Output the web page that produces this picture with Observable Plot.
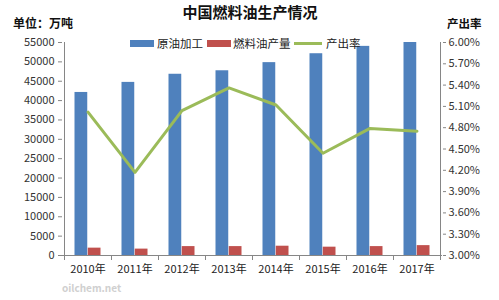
<!DOCTYPE html>
<html><head><meta charset="utf-8">
<script src="https://cdn.jsdelivr.net/npm/d3@7"></script>
<script src="https://cdn.jsdelivr.net/npm/@observablehq/plot@0.6"></script>
<style>
body{margin:0;background:#fff;}
#c{position:relative;width:499px;height:300px;}
</style>
</head><body><div id="c"></div>
<script>
const years = ["2010年","2011年","2012年","2013年","2014年","2015年","2016年","2017年"];
const crude = [42100,44700,46800,47700,49800,52100,54000,55000];
const fuel = [1900,1650,2300,2300,2400,2150,2300,2550];
const rate = [5.02,4.17,5.04,5.36,5.12,4.44,4.79,4.75];
const leftTicks = [0,5000,10000,15000,20000,25000,30000,35000,40000,45000,50000,55000];
const rightTicks = [3.00,3.30,3.60,3.90,4.20,4.50,4.80,5.10,5.40,5.70,6.00];
const seriesNames = ["原油加工","燃料油产量","产出率"];
const colors = ["#4F81BD","#C0504D","#9BBB59"];

const yMax = 55000, rMin = 3, rMax = 6;
const toY = p => (p - rMin) / (rMax - rMin) * yMax;
const data = years.map((y,i)=>({year:y, crude:crude[i], fuel:fuel[i], rate:rate[i]}));
const font = "'Noto Sans CJK SC','Noto Sans',sans-serif";

const chart = Plot.plot({
  width: 499, height: 300,
  marginLeft: 62, marginRight: 57, marginTop: 42, marginBottom: 45,
  style: {fontFamily: font, fontSize: "11px", color: "#333", background: "#fff", overflow: "visible"},
  x: {domain: years, padding: 0, axis: null},
  y: {domain: [0, yMax], axis: null},
  marks: [
    Plot.barY(data, {x:"year", y:"crude", fill:colors[0], insetLeft:10.5, insetRight:23.75}),
    Plot.barY(data, {x:"year", y:"fuel", fill:colors[1], insetLeft:23.75, insetRight:10.5}),
    Plot.line(data, {x:"year", y: d => toY(d.rate), stroke:colors[2], strokeWidth:3}),
    Plot.ruleY([0], {stroke:"#868686"}),
    Plot.axisY({anchor:"left", ticks:leftTicks, tickFormat: d3.format("d"), tickSize:4, tickPadding:4, stroke:"#868686", fill:"#333", fontSize:11, label:null}),
    Plot.axisY({anchor:"right", ticks:rightTicks.map(toY), tickFormat: v => (v/yMax*(rMax-rMin)+rMin).toFixed(2)+"%", tickSize:3, tickPadding:3, stroke:"#868686", fill:"#333", fontSize:11, label:null}),
    Plot.axisX({anchor:"bottom", tickSize:0, tickPadding:10, fill:"#222", fontSize:11, label:null})
  ]
});
document.getElementById("c").appendChild(chart);

const svg = d3.select(chart);
const xs = chart.scale("x"), ysc = chart.scale("y");
const bw = xs.bandwidth;
const x0 = xs.apply(years[0]), x1 = xs.apply(years[years.length-1]) + bw;
const yb = ysc.apply(0), yt = ysc.apply(yMax);
const g = svg.append("g").attr("stroke","#868686");
g.append("line").attr("x1",x0+0.5).attr("x2",x0+0.5).attr("y1",yt).attr("y2",yb);
g.append("line").attr("x1",x1+0.5).attr("x2",x1+0.5).attr("y1",yt).attr("y2",yb);
years.forEach(y=>{
  const xx = xs.apply(y);
  g.append("line").attr("x1",xx+0.5).attr("x2",xx+0.5).attr("y1",yb).attr("y2",yb+5);
});
g.append("line").attr("x1",x1+0.5).attr("x2",x1+0.5).attr("y1",yb).attr("y2",yb+5);

const t = svg.append("g").attr("font-family", font).attr("text-anchor","start");
t.append("text").attr("x",250).attr("y",18).attr("text-anchor","middle").attr("font-size",15).attr("font-weight","bold").attr("fill","#111").text("中国燃料油生产情况");
t.append("text").attr("x",13).attr("y",28).attr("font-size",12).attr("font-weight","bold").attr("fill","#111").text("单位：万吨");
t.append("text").attr("x",447).attr("y",28).attr("font-size",11.5).attr("font-weight","bold").attr("fill","#111").text("产出率");

// legend
const lg = t.append("g").attr("font-size",11.5).attr("fill","#222");
lg.append("rect").attr("x",130).attr("y",40).attr("width",24).attr("height",7).attr("fill",colors[0]);
lg.append("text").attr("x",157).attr("y",48).text(seriesNames[0]);
lg.append("rect").attr("x",207).attr("y",40).attr("width",24).attr("height",7).attr("fill",colors[1]);
lg.append("text").attr("x",233).attr("y",48).text(seriesNames[1]);
lg.append("line").attr("x1",294).attr("x2",322).attr("y1",43.5).attr("y2",43.5).attr("stroke",colors[2]).attr("stroke-width",3);
lg.append("text").attr("x",326).attr("y",48).text(seriesNames[2]);

t.append("text").attr("x",62).attr("y",292).attr("font-size",10).attr("font-weight","bold").attr("fill","#d0d0d0").text("oilchem.net");
</script>
</body></html>
